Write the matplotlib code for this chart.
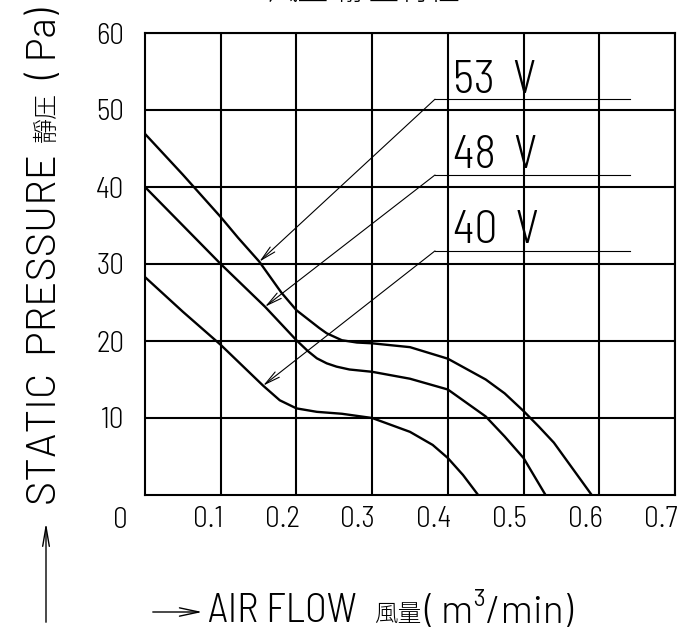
import matplotlib
matplotlib.use("Agg")
import matplotlib.pyplot as plt
import matplotlib.transforms as mtransforms
from matplotlib.patches import FancyArrowPatch

# --- data (x = air flow m3/min, y = static pressure Pa) ---
x_53 = [0, 0.05, 0.1, 0.123, 0.151, 0.18, 0.2, 0.23, 0.24, 0.26, 0.28, 0.3, 0.35, 0.4, 0.45, 0.475, 0.5, 0.52, 0.54, 0.59]
y_53 = [46.9, 41.6, 36.1, 33.4, 30.3, 26.3, 24.0, 21.7, 21.0, 20.1, 19.8, 19.7, 19.2, 17.7, 15.0, 13.2, 10.9, 8.9, 6.8, 0]

x_48 = [0, 0.05, 0.1, 0.1585, 0.2, 0.215, 0.227, 0.24, 0.253, 0.27, 0.3, 0.35, 0.4, 0.45, 0.475, 0.5, 0.529]
y_48 = [40, 35, 30, 24.45, 20.1, 18.7, 17.75, 17.1, 16.67, 16.3, 16.0, 15.1, 13.7, 10.2, 7.6, 4.8, 0]

x_40 = [0, 0.05, 0.1, 0.156, 0.178, 0.2, 0.227, 0.26, 0.3, 0.35, 0.38, 0.4, 0.42, 0.44]
y_40 = [28.3, 23.8, 19.5, 14.2, 12.3, 11.25, 10.8, 10.55, 10.0, 8.2, 6.5, 4.8, 2.6, 0]

voltages = ["53", "48", "40"]
# leader line: corner of the leader, arrow tip on the curve, label baseline
corner_y = [51.4, 41.56, 31.7]
tip_x = [0.151, 0.1585, 0.156]
tip_y = [30.3, 24.45, 14.2]
label_y = [52.2, 42.5, 32.7]

xticks = [0.1, 0.2, 0.3, 0.4, 0.5, 0.6, 0.7]
yticks = [10, 20, 30, 40, 50, 60]

# narrow thin "CAD" look, CJK falls back to Noto
narrow = ["Barlow Semi Condensed", "Noto Sans CJK JP", "DejaVu Sans"]
wide = ["Barlow", "Noto Sans CJK JP", "DejaVu Sans"]
cjk = ["Noto Sans CJK JP", "DejaVu Sans"]
plt.rcParams["font.family"] = narrow
plt.rcParams["font.weight"] = 300

fig = plt.figure(figsize=(7, 6.41), dpi=100)
ax = fig.add_axes([145/700, 146/641, 530/700, 462/641])

# curves
for xs, ys in [(x_53, y_53), (x_48, y_48), (x_40, y_40)]:
    ax.plot(xs, ys, color="black", lw=1.7, solid_capstyle="butt")

# grid / frame
ax.set_xlim(0, 0.7)
ax.set_ylim(0, 60)
ax.set_xticks(xticks)
ax.set_yticks(yticks)
ax.grid(True, color="black", lw=1.5)
ax.set_axisbelow(True)
for s in ax.spines.values():
    s.set_linewidth(1.5)
ax.tick_params(length=0, labelsize=21)
ax.tick_params(axis="y", pad=15)
ax.tick_params(axis="x", pad=8)
ax.set_xticklabels([f"{v:.1f}" for v in xticks])
ax.set_yticklabels([str(v) for v in yticks])
shift = mtransforms.ScaledTranslation(3/100, 0, fig.dpi_scale_trans)
for lbl in ax.get_xticklabels():
    lbl.set_ha("right")
    lbl.set_transform(lbl.get_transform() + shift)

# origin label
ax.text(0, -0.026, "0", transform=ax.get_xaxis_transform() + mtransforms.ScaledTranslation(-17/100, 0, fig.dpi_scale_trans),
        ha="right", va="top", fontsize=21)

# voltage labels with leader lines
for v, cy, tx, ty, ly in zip(voltages, corner_y, tip_x, tip_y, label_y):
    ax.plot([0.383, 0.641], [cy, cy], color="black", lw=0.8)
    ax.annotate("", xy=(tx, ty), xytext=(0.383, cy),
                arrowprops=dict(arrowstyle="->,head_length=0.55,head_width=0.12",
                                lw=0.8, color="black", shrinkA=0, shrinkB=0,
                                mutation_scale=20))
    ax.text(0.407, ly, v + "  V", fontsize=33, ha="left", va="baseline")

# y axis title (latin part large, CJK part smaller)
fig.text(46/700, 1 - 505/641, "STATIC  PRESSURE", rotation=90,
         ha="center", va="bottom", fontsize=30, family=wide)
fig.text(47/700, 1 - 142/641, "靜圧", rotation=90,
         ha="center", va="bottom", fontsize=18, family=cjk)
fig.text(46/700, 1 - 8/641, "( Pa)", rotation=90,
         ha="center", va="top", fontsize=29, family=wide)

# x axis title
fig.text(208/700, 1 - 612/641, "AIR FLOW", ha="left", va="center", fontsize=29)
fig.text(374/700, 1 - 614/641, "風量", ha="left", va="center", fontsize=17, family=cjk)
fig.text(424/700, 1 - 612/641, "( m³/min)", ha="left", va="center", fontsize=28, family=wide)

# axis arrows
fig.add_artist(FancyArrowPatch(
    (46/700, 1 - 625/641), (46/700, 1 - 520/641), transform=fig.transFigure,
    arrowstyle="->,head_length=0.7,head_width=0.12", mutation_scale=20,
    lw=1.0, color="black"))
fig.add_artist(FancyArrowPatch(
    (150/700, 1 - 612/641), (205/700, 1 - 612/641), transform=fig.transFigure,
    arrowstyle="->,head_length=0.7,head_width=0.15", mutation_scale=20,
    lw=1.0, color="black"))

# title (cut off at the top edge in the original)
fig.text(364/700, 1.0, "風量-靜壓特性", ha="center", va="baseline",
         fontsize=22, family=cjk)

fig.savefig("out.png", dpi=100)
